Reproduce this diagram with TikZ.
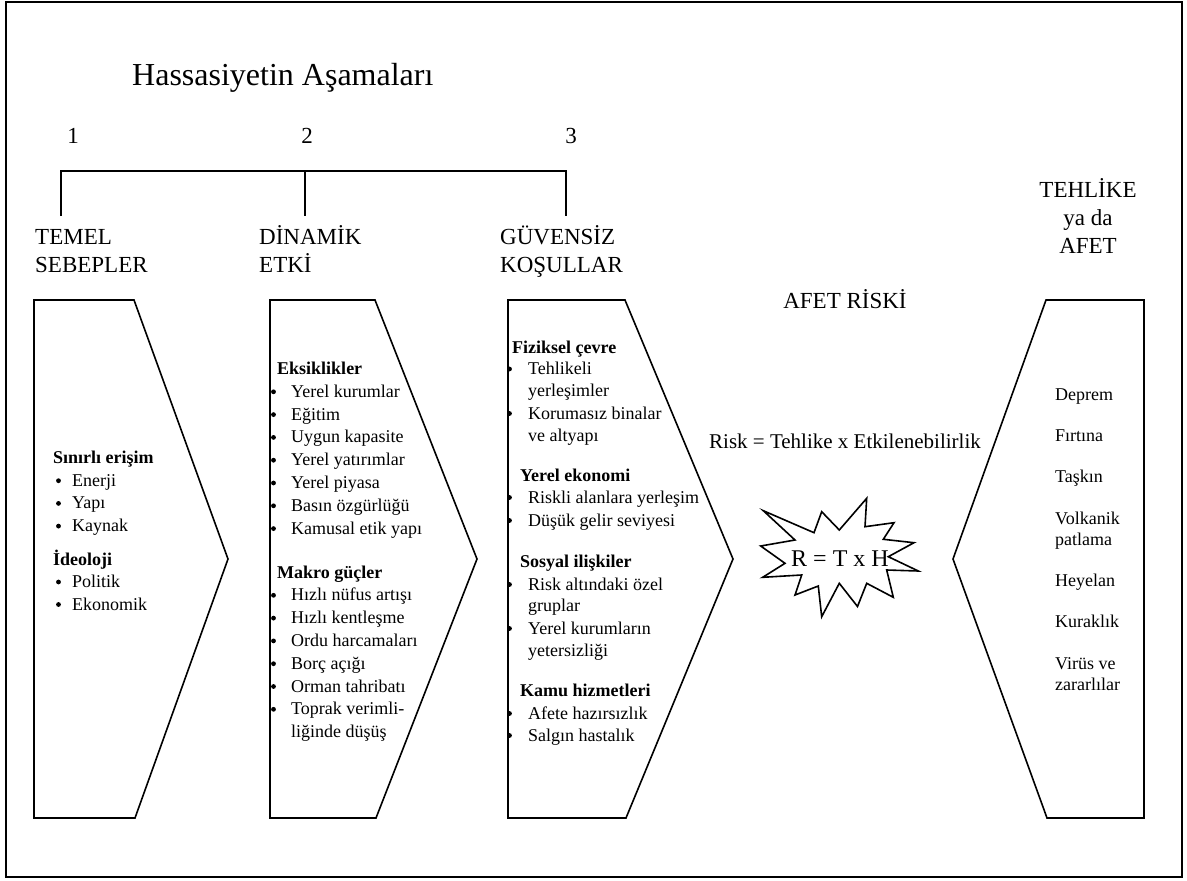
\documentclass[tikz,border=0pt]{standalone}
\usepackage{fontspec}
\setmainfont{Liberation Serif}
\begin{document}
\begin{tikzpicture}[x=1pt,y=-1pt,
  outline/.style={line width=1.6pt, line join=miter},
  frameline/.style={line width=2pt},
  body/.style={font=\fontsize{18}{22}\selectfont, inner sep=0pt, anchor=base west},
  bhead/.style={font=\fontsize{18}{22}\selectfont\bfseries, inner sep=0pt, anchor=base west},
  big/.style={font=\fontsize{23}{28}\selectfont, inner sep=0pt, anchor=base west},
  bigc/.style={font=\fontsize{23}{28}\selectfont, inner sep=0pt, anchor=base},
  dot/.style={fill=black},
]
\useasboundingbox (0,0) rectangle (1187,881);
\draw[frameline] (6,2) rectangle (1182,877);

% title and stage numbers
\node[font=\fontsize{32}{38}\selectfont, inner sep=0pt, anchor=base west] (title) at (132,85) {Hassasiyetin Aşamaları};
\node[bigc] (n1) at (73,143) {1};
\node[bigc] (n2) at (307,143) {2};
\node[bigc] (n3) at (571,143) {3};

% bracket joining the three stages
\coordinate (k1) at (61,216);
\coordinate (k2) at (305,216);
\coordinate (k3) at (566,216);
\coordinate (kt) at (305,171);
\draw[frameline] (k1) |- (kt) -| (k3);
\draw[frameline] (kt) -- (k2);

% column headings
\node[big] (h1a) at (35,244) {TEMEL};
\node[big] (h1b) at (35,272) {SEBEPLER};
\node[big] (h2a) at (259,244) {DİNAMİK};
\node[big] (h2b) at (259,272) {ETKİ};
\node[big] (h3a) at (500,244) {GÜVENSİZ};
\node[big] (h3b) at (500,272) {KOŞULLAR};
\node[bigc] (h4a) at (1088,197) {TEHLİKE};
\node[bigc] (h4b) at (1088,225) {ya da};
\node[bigc] (h4c) at (1088,253) {AFET};
\node[bigc] (risk) at (845,308) {AFET RİSKİ};

% arrow-shaped panels
\draw[outline] (34,300) -- (134,300) -- (228,559) -- (135,818) -- (34,818) -- cycle;
\draw[outline] (270,300) -- (375,300) -- (477,559) -- (376,818) -- (270,818) -- cycle;
\draw[outline] (508,300) -- (625,300) -- (733,559) -- (626,818) -- (508,818) -- cycle;
\draw[outline] (953,559) -- (1046,300) -- (1144,300) -- (1144,818) -- (1047,818) -- cycle;

% panel 1: root causes
\node[bhead] (a0) at (53,463.5) {Sınırlı erişim};
\foreach \t/\y [count=\i] in {Enerji/486.2, Yapı/508.9, Kaynak/531.6, Politik/587.5, Ekonomik/610}{
  \fill[dot] (58.5,\y-5.5) circle (2.4);
  \node[body] (a\i) at (72,\y) {\t};
}
\node[bhead] (a9) at (53,565) {İdeoloji};

% panel 2: dynamic pressures
\node[bhead] (c0) at (277,374.5) {Eksiklikler};
\foreach \t/\y [count=\i] in {Yerel kurumlar/397.3, Eğitim/420.1, Uygun kapasite/442.9, Yerel yatırımlar/465.7, Yerel piyasa/488.5, Basın özgürlüğü/511.3, Kamusal etik yapı/534.1, Hızlı nüfus artışı/600.8, Hızlı kentleşme/623.6, Ordu harcamaları/646.4, Borç açığı/669.2, Orman tahribatı/692, Toprak verimli-/714.8}{
  \fill[dot] (273.5,\y-5.5) circle (2.4);
  \node[body] (c\i) at (291,\y) {\t};
}
\node[bhead] (d0) at (277,578) {Makro güçler};
\node[body] (d1) at (291,737.6) {liğinde düşüş};

% panel 3: unsafe conditions
\node[bhead] (e0) at (512,353) {Fiziksel çevre};
\node[bhead] (f0) at (520,481) {Yerel ekonomi};
\node[bhead] (g0) at (520,567) {Sosyal ilişkiler};
\node[bhead] (k0) at (520,696.5) {Kamu hizmetleri};
\foreach \t/\y [count=\i] in {Tehlikeli/374.5, Korumasız binalar/419, Riskli alanlara yerleşim/503, Düşük gelir seviyesi/526, Risk altındaki özel/590, Yerel kurumların/634, Afete hazırsızlık/719, Salgın hastalık/741}{
  \fill[dot] (509.5,\y-5.5) circle (2.4);
  \node[body] (e\i) at (528,\y) {\t};
}
\foreach \t/\y [count=\i] in {yerleşimler/396, ve altyapı/441, gruplar/611.5, yetersizliği/656}
  \node[body] (w\i) at (528,\y) {\t};

% hazards
\foreach \t/\y [count=\i] in {Deprem/400, Fırtına/441, Taşkın/482, Volkanik/524, patlama/545, Heyelan/586, Kuraklık/627, Virüs ve/669, zararlılar/690}
  \node[body] (z\i) at (1055,\y) {\t};

% risk formula and burst
\node[font=\fontsize{21}{25}\selectfont, inner sep=0pt, anchor=base] (formula) at (845,448) {Risk = Tehlike x Etkilenebilirlik};
\draw[outline, fill=white] (763.3,510.7) -- (814,532.7) -- (821.7,511.7) -- (839.3,530) -- (866.7,498.3) -- (865,526.7)
  -- (894,522.7) -- (883.3,539.3) -- (914,542.7) -- (888.3,556.7) -- (918.3,571) -- (886.7,570)
  -- (893.3,597.3) -- (866.7,583.3) -- (857.5,606.5) -- (839.3,583.3) -- (821.7,616.7) -- (818.3,586)
  -- (795,595) -- (801.7,575) -- (762.7,577.3) -- (785,563.3) -- (760.7,546) -- (795,540) -- cycle;
\node[font=\fontsize{24}{28}\selectfont, inner sep=0pt, anchor=base] (rth) at (840,566) {R = T x H};
\end{tikzpicture}
\end{document}
